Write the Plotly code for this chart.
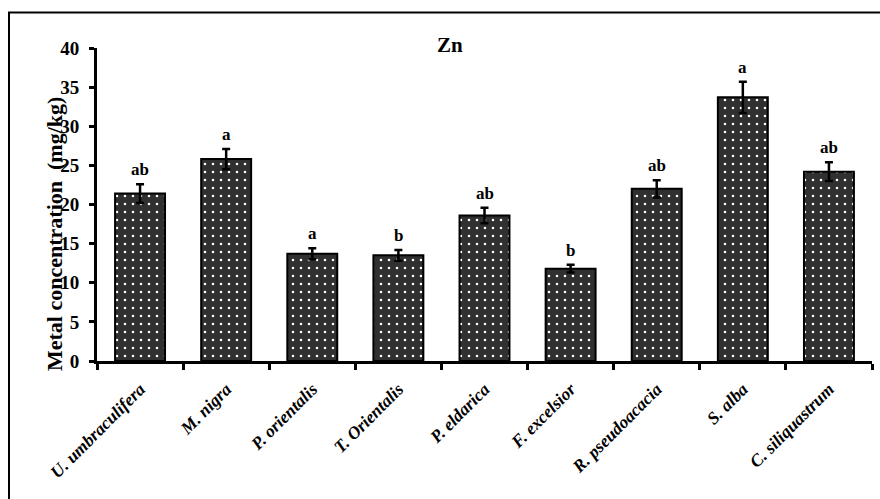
import plotly.graph_objects as go

species = ["U. umbraculifera", "M. nigra", "P. orientalis", "T. Orientalis", "P. eldarica",
           "F. excelsior", "R. pseudoacacia", "S. alba", "C. siliquastrum"]
zn_mean = [21.4, 25.8, 13.7, 13.5, 18.6, 11.8, 22.0, 33.7, 24.2]
zn_err = [1.2, 1.3, 0.7, 0.7, 1.0, 0.5, 1.1, 2.0, 1.2]
letters = ["ab", "a", "a", "b", "ab", "b", "ab", "a", "ab"]
y_ticks = [0, 5, 10, 15, 20, 25, 30, 35, 40]

SERIF = "Liberation Serif, Times New Roman, serif"

fig = go.Figure()
fig.add_trace(go.Bar(
    x=species, y=zn_mean,
    marker=dict(color="#303030",
                line=dict(color="black", width=2),
                pattern=dict(shape=".", fgcolor="white", bgcolor="#303030",
                             size=8, solidity=0.08, fillmode="replace")),
    error_y=dict(type="data", array=zn_err, color="black", thickness=2.5, width=4),
    width=0.58,
    hoverinfo="skip",
))

for sp, m, e, lab in zip(species, zn_mean, zn_err, letters):
    fig.add_annotation(x=sp, y=m + e, text="<b>" + lab + "</b>", showarrow=False,
                       yanchor="bottom", yshift=3,
                       font=dict(family=SERIF, size=17, color="black"))

fig.add_annotation(xref="paper", yref="paper", x=(450 - 97) / 775, y=(361 - 45) / 313,
                   text="<b>Zn</b>", showarrow=False, xanchor="center", yanchor="middle",
                   font=dict(family=SERIF, size=21, color="black"))

# y axis title
fig.add_annotation(xref="paper", yref="paper", x=(55 - 97) / 775, y=(361 - 234) / 313,
                   text="<b>Metal concentration  (mg/kg)</b>", showarrow=False, textangle=-90,
                   xanchor="center", yanchor="middle",
                   font=dict(family=SERIF, size=22, color="black"))

# outer frame
fig.add_shape(type="rect", xref="paper", yref="paper",
              x0=(9 - 97) / 775, x1=(890 - 97) / 775,
              y0=(361 - 520) / 313, y1=(361 - 12.5) / 313,
              line=dict(color="black", width=2), layer="below")

fig.update_layout(
    width=880, height=499,
    margin=dict(l=97, r=8, t=48, b=138),
    paper_bgcolor="white", plot_bgcolor="white",
    showlegend=False,
    bargap=0.42,
    xaxis=dict(showline=True, linecolor="black", linewidth=3, ticks="outside",
               tickson="boundaries", ticklen=6, tickwidth=3, tickcolor="black",
               tickangle=-45, showgrid=False, ticklabelstandoff=8,
               tickfont=dict(family=SERIF, size=17.5, color="black", weight="bold", style="italic")),
    yaxis=dict(range=[0, 40], tickvals=y_ticks, showline=True, linecolor="black", linewidth=3,
               ticks="outside", ticklen=5, tickwidth=3, tickcolor="black", showgrid=False,
               zeroline=False, ticklabelstandoff=6,
               tickfont=dict(family=SERIF, size=19, color="black", weight="bold")),
)

fig.write_html("out.html", config={"displayModeBar": False},
               post_script="document.body.style.margin='0';")
